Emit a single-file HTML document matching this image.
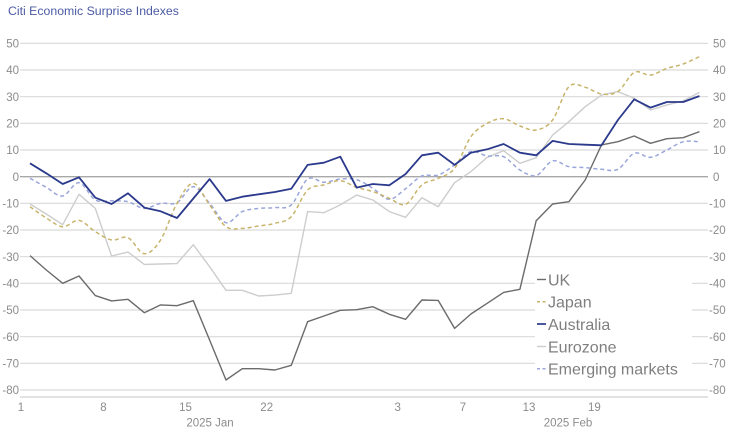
<!DOCTYPE html>
<html>
<head>
<meta charset="utf-8">
<style>
html,body{margin:0;padding:0;background:#fff;}
body{width:731px;height:434px;overflow:hidden;}
svg{display:block;}
text{font-family:"Liberation Sans",sans-serif;}
</style>
</head>
<body>
<svg id="c" width="731" height="434" viewBox="0 0 731 434" xmlns="http://www.w3.org/2000/svg">
<text x="8" y="15" font-size="12.3" fill="#4b5aa3">Citi Economic Surprise Indexes</text>
<g id="grid" stroke="#dadada" stroke-width="1.2">
<line x1="20" x2="708" y1="43.3" y2="43.3"/>
<line x1="20" x2="708" y1="70" y2="70"/>
<line x1="20" x2="708" y1="96.7" y2="96.7"/>
<line x1="20" x2="708" y1="123.3" y2="123.3"/>
<line x1="20" x2="708" y1="150" y2="150"/>
<line x1="20" x2="708" y1="203.3" y2="203.3"/>
<line x1="20" x2="708" y1="230" y2="230"/>
<line x1="20" x2="708" y1="256.7" y2="256.7"/>
<line x1="20" x2="708" y1="283.3" y2="283.3"/>
<line x1="20" x2="708" y1="310" y2="310"/>
<line x1="20" x2="708" y1="336.7" y2="336.7"/>
<line x1="20" x2="708" y1="363.3" y2="363.3"/>
<line x1="20" x2="708" y1="390" y2="390"/>
</g>
<line x1="20" x2="708" y1="176.7" y2="176.7" stroke="#a8a8a8" stroke-width="1.3"/>
<line x1="20" x2="708" y1="397" y2="397" stroke="#d0d0d0" stroke-width="1.2"/>
<g font-size="11.5" fill="#8c8c8c" text-anchor="end">
<text x="19" y="47.5">50</text>
<text x="19" y="74">40</text>
<text x="19" y="101">30</text>
<text x="19" y="127.5">20</text>
<text x="19" y="154">10</text>
<text x="19" y="181">0</text>
<text x="19" y="207.5">-10</text>
<text x="19" y="234">-20</text>
<text x="19" y="261">-30</text>
<text x="19" y="287.5">-40</text>
<text x="19" y="314">-50</text>
<text x="19" y="341">-60</text>
<text x="19" y="367.5">-70</text>
<text x="19" y="394">-80</text>
</g>
<g font-size="11.5" fill="#8c8c8c" text-anchor="start">
<text x="713" y="47.5">50</text>
<text x="713" y="74">40</text>
<text x="713" y="101">30</text>
<text x="713" y="127.5">20</text>
<text x="713" y="154">10</text>
<text x="713" y="181">0</text>
<text x="709" y="207.5">-10</text>
<text x="709" y="234">-20</text>
<text x="709" y="261">-30</text>
<text x="709" y="287.5">-40</text>
<text x="709" y="314">-50</text>
<text x="709" y="341">-60</text>
<text x="709" y="367.5">-70</text>
<text x="709" y="394">-80</text>
</g>
<g font-size="11.5" fill="#8c8c8c" text-anchor="middle">
<text x="21" y="411">1</text>
<text x="103.5" y="411">8</text>
<text x="185.5" y="411">15</text>
<text x="266.7" y="411">22</text>
<text x="397.7" y="411">3</text>
<text x="463" y="411">7</text>
<text x="529" y="411">13</text>
<text x="594.4" y="411">19</text>
<text x="210" y="426.5">2025 Jan</text>
<text x="568" y="426.5">2025 Feb</text>
</g>
<g id="series"></g>
<rect x="535" y="266" width="157" height="114" fill="#fff"/>
<g font-size="16" fill="#7f7f7f">
<line x1="537" x2="546" y1="279.5" y2="279.5" stroke="#6b6b6b" stroke-width="1.4"/>
<text x="548" y="285.5">UK</text>
<line x1="537" x2="546" y1="301.7" y2="301.7" stroke="#c8b46a" stroke-width="1.5" stroke-dasharray="3 2.5"/>
<text x="548" y="307.7">Japan</text>
<line x1="537" x2="546" y1="324" y2="324" stroke="#2b3a8c" stroke-width="1.7"/>
<text x="548" y="330">Australia</text>
<line x1="537" x2="546" y1="346.5" y2="346.5" stroke="#cdcdcd" stroke-width="1.4"/>
<text x="548" y="352.5">Eurozone</text>
<line x1="537" x2="546" y1="368.7" y2="368.7" stroke="#9aa6da" stroke-width="1.5" stroke-dasharray="3 2.5"/>
<text x="548" y="374.7">Emerging markets</text>
</g>
</svg>
<script>
(function(){
var UK=[-29.6,-35,-40,-37.25,-44.6,-46.6,-46,-51,-48.1,-48.4,-46.5,-61.25,-76.25,-72,-72,-72.5,-70.75,-54.4,-52.25,-50.1,-49.9,-48.75,-51.6,-53.5,-46.25,-46.4,-56.9,-51.5,-47.5,-43.4,-42.25,-16.5,-10.25,-9.4,-1.25,11.9,13.1,15.25,12.5,14.25,14.6,16.9];
var JP=[-11.25,-15.5,-18.75,-16.4,-20.6,-23.75,-22.9,-28.9,-23.75,-10,-2.5,-10.6,-18.75,-19.4,-18.5,-17.5,-15,-5,-3.1,-1.5,-4,-5.6,-8.1,-10.4,-3.1,-0.6,3.1,15,20,21.75,19,17.5,21.25,33.75,33.5,31,31.9,39.1,38.1,40.6,42.25,45];
var AU=[5,1.25,-2.75,-0.25,-7.9,-10.25,-6.25,-11.6,-13,-15.5,-8.2,-0.9,-9.1,-7.5,-6.6,-5.75,-4.5,4.4,5.25,7.5,-4.1,-2.75,-3.25,1,8,9,4.4,9,10.25,12.25,9,8,13.4,12.25,12,11.75,21.25,29,25.9,28,28,30.25];
var EZ=[-10.25,-14,-18,-6.6,-11.9,-29.75,-28.25,-32.9,-32.75,-32.6,-25.5,-33.75,-42.6,-42.6,-44.75,-44.4,-43.75,-13.1,-13.5,-10.6,-6.9,-8.75,-13.1,-15.25,-7.9,-11.25,-2.25,1.9,7.25,9.75,5,7.1,15.6,20.6,26.25,30.6,31.9,29.4,25,26.9,28.4,31.6];
var EM=[-0.6,-4,-7.25,-2.25,-8.75,-9,-9.4,-11.9,-10,-9.75,-3.75,-10,-17.25,-13.1,-11.9,-11.6,-10.6,-0.9,-2.1,-0.9,-1.1,-4.4,-8.5,-4.5,0.25,0.6,4.4,9.4,7.75,7.5,2.5,0.4,5.9,3.75,3.4,2.75,2.75,8.75,7.25,10,13.1,13.1];
function pts(a){return a.map(function(v,i){return [30+16.33*i,176.67-2.6667*v];});}
function poly(a){var p=pts(a);return 'M'+p.map(function(q){return q[0].toFixed(1)+','+q[1].toFixed(1);}).join(' L');}
function smooth(a){var p=pts(a);var d='M'+p[0][0].toFixed(1)+','+p[0][1].toFixed(1);
for(var i=0;i<p.length-1;i++){var p0=p[i>0?i-1:i],p1=p[i],p2=p[i+1],p3=p[i+2<p.length?i+2:i+1];
var c1x=p1[0]+(p2[0]-p0[0])/6,c1y=p1[1]+(p2[1]-p0[1])/6,c2x=p2[0]-(p3[0]-p1[0])/6,c2y=p2[1]-(p3[1]-p1[1])/6;
d+=' C'+c1x.toFixed(1)+','+c1y.toFixed(1)+' '+c2x.toFixed(1)+','+c2y.toFixed(1)+' '+p2[0].toFixed(1)+','+p2[1].toFixed(1);}
return d;}
var NS='http://www.w3.org/2000/svg';var g=document.getElementById('series');
function add(d,col,w,dash){var e=document.createElementNS(NS,'path');e.setAttribute('d',d);e.setAttribute('fill','none');e.setAttribute('stroke',col);e.setAttribute('stroke-width',w);e.setAttribute('stroke-linejoin','round');if(dash)e.setAttribute('stroke-dasharray',dash);g.appendChild(e);}
add(poly(EZ),'#cdcdcd',1.4);
add(poly(UK),'#6b6b6b',1.4);
add(smooth(EM),'#9aa6da',1.5,'4 3');
add(smooth(JP),'#c8b46a',1.5,'4 3');
add(poly(AU),'#2b3a8c',1.8);
})();
</script>
</body>
</html>
